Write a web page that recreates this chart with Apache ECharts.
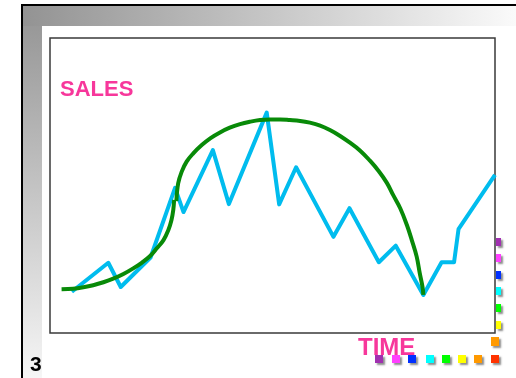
<!DOCTYPE html>
<html>
<head>
<meta charset="utf-8">
<script src="https://cdn.jsdelivr.net/npm/echarts@6/dist/echarts.min.js"></script>
<style>
  html, body { margin: 0; padding: 0; background: #fff; }
  #chart { width: 516px; height: 378px; }
</style>
</head>
<body>
<div id="chart"></div>
<script>
// sales (jagged cyan line)
var salesTime  = [4.9, 13.1, 15.9, 22.6, 28.1, 30.0, 36.6, 40.2, 48.7, 51.5, 55.3, 63.7, 67.3, 73.9, 77.7, 83.9, 88.0, 90.8, 91.8, 100];
var salesValue = [14.0, 23.8, 15.6, 25.6, 49.2, 41.0, 62.0, 43.7, 74.7, 43.6, 56.2, 32.6, 42.3, 24.0, 29.6, 12.9, 24.0, 24.0, 35.2, 53.6];

// trend curve, rising part (green)
var riseTime  = [2.6, 5.2, 7.5, 9.7, 12.0, 14.2, 16.5, 18.7, 20.6, 22.5, 24.0, 25.5, 26.6, 27.3, 27.7, 27.9];
var riseValue = [14.8, 15.0, 15.5, 16.2, 17.2, 18.4, 20.0, 21.9, 23.8, 26.1, 28.7, 31.5, 34.9, 38.3, 41.7, 45.1];

// trend curve, arc part (green)
var arcTime  = [28.4, 28.8, 29.6, 30.7, 32.2, 34.1, 36.0, 38.2, 40.4, 42.7, 44.9, 47.2, 49.4, 51.7, 53.9, 56.2, 58.4, 60.7,
                62.9, 65.2, 67.4, 69.7, 71.9, 73.8, 75.7, 77.1, 78.7, 80.2, 81.3, 82.4, 83.1, 83.7, 83.9];
var arcValue = [44.7, 50.7, 54.7, 58.1, 60.9, 63.7, 66.0, 68.0, 69.6, 70.8, 71.6, 72.2, 72.4, 72.4, 72.2, 71.9, 71.3, 70.3,
                68.8, 66.8, 64.5, 61.8, 58.4, 55.0, 50.9, 46.8, 42.3, 36.6, 31.5, 25.9, 20.2, 15.7, 12.9];

var rowColors = ['#a030b0', '#ff40ff', '#0030ff', '#00ffff', '#00ff00', '#ffff00', '#ff9900', '#ff3300'];
var colColors = ['#a030b0', '#ff40ff', '#0030ff', '#00ffff', '#00ff00', '#ffff00'];

function zip(xs, ys) {
    var out = [];
    for (var i = 0; i < xs.length; i++) {
        out.push([xs[i], ys[i]]);
    }
    return out;
}

var chart = echarts.init(document.getElementById('chart'));

// frame decoration
var graphics = [
    {
        type: 'rect', z: -10, silent: true,
        shape: { x: 23, y: 6, width: 19, height: 372 },
        style: { fill: new echarts.graphic.LinearGradient(0, 0, 0, 1, [
            { offset: 0, color: '#939393' }, { offset: 1, color: '#f6f6f6' }]) }
    },
    {
        type: 'rect', z: -9, silent: true,
        shape: { x: 23, y: 6, width: 493, height: 20 },
        style: { fill: new echarts.graphic.LinearGradient(0, 0, 1, 0, [
            { offset: 0, color: '#939393' }, { offset: 1, color: '#fafafa' }]) }
    },
    { type: 'rect', z: -8, silent: true, shape: { x: 21, y: 4, width: 495, height: 2 }, style: { fill: '#000' } },
    { type: 'rect', z: -8, silent: true, shape: { x: 21, y: 4, width: 2, height: 374 }, style: { fill: '#000' } },
    {
        type: 'text', z: 10, x: 60, y: 79,
        style: { text: 'SALES', font: 'bold 22px "Liberation Sans", Arial, sans-serif', fill: '#f7379b', textVerticalAlign: 'top' }
    },
    {
        type: 'text', z: 10, x: 358, y: 336,
        style: { text: 'TIME', font: 'bold 24px "Liberation Sans", Arial, sans-serif', fill: '#f7379b', textVerticalAlign: 'top' }
    },
    {
        type: 'text', z: 10, x: 30, y: 355,
        style: { text: '3', font: 'bold 21px "Liberation Sans", Arial, sans-serif', fill: '#000', textVerticalAlign: 'top' }
    }
];

// little coloured squares
var rowX = [375, 392, 408, 426, 442, 458, 474, 491];
for (var i = 0; i < rowColors.length; i++) {
    graphics.push({
        type: 'rect', z: 5, silent: true,
        shape: { x: rowX[i], y: 355, width: 8, height: 8 },
        style: { fill: rowColors[i], shadowBlur: 2, shadowOffsetX: 2, shadowOffsetY: 2, shadowColor: 'rgba(0,0,0,0.45)' }
    });
}
var colY = [238, 254, 271, 287, 304, 321];
for (var j = 0; j < colColors.length; j++) {
    graphics.push({
        type: 'rect', z: 5, silent: true,
        shape: { x: 496, y: colY[j], width: 5, height: 8 },
        style: { fill: colColors[j], shadowBlur: 2, shadowOffsetX: 2, shadowOffsetY: 2, shadowColor: 'rgba(0,0,0,0.45)' }
    });
}
graphics.push({
    type: 'rect', z: 5, silent: true,
    shape: { x: 491, y: 337, width: 8, height: 9 },
    style: { fill: '#ff9900', shadowBlur: 2, shadowOffsetX: 2, shadowOffsetY: 2, shadowColor: 'rgba(0,0,0,0.45)' }
});

var option = {
    animation: false,
    backgroundColor: '#fff',
    grid: {
        left: 50, top: 38, right: 21, bottom: 45,
        show: true,
        backgroundColor: '#fff',
        borderColor: '#3a3a3a',
        borderWidth: 1.5
    },
    xAxis: {
        type: 'value', min: 0, max: 100,
        show: false
    },
    yAxis: {
        type: 'value', min: 0, max: 100,
        show: false
    },
    graphic: graphics,
    series: [
        {
            name: 'sales',
            type: 'line',
            data: zip(salesTime, salesValue),
            symbol: 'none',
            lineStyle: { color: '#00bcee', width: 4, join: 'round' }
        },
        {
            name: 'rise',
            type: 'line',
            data: zip(riseTime, riseValue),
            symbol: 'none',
            smooth: 0.4,
            lineStyle: { color: '#088a08', width: 4 }
        },
        {
            name: 'arc',
            type: 'line',
            data: zip(arcTime, arcValue),
            symbol: 'none',
            smooth: 0.4,
            lineStyle: { color: '#088a08', width: 4 }
        }
    ]
};
chart.setOption(option);
</script>
</body>
</html>
